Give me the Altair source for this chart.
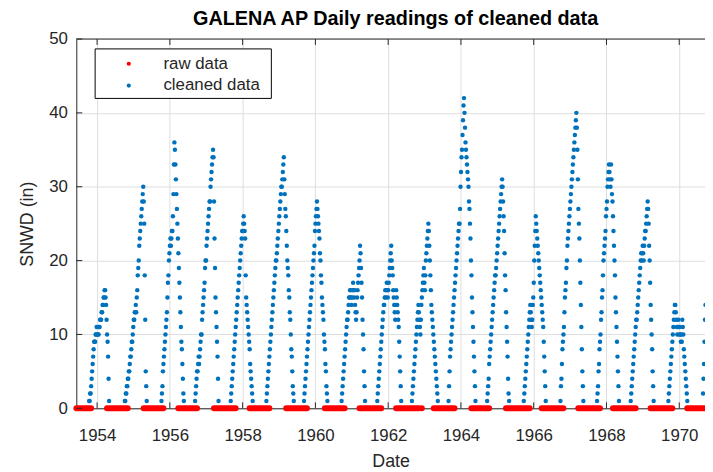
import altair as alt
import pandas as pd

# ---------------- data ----------------
# decimal year of first reading of each snow season, readings every 5 days
season_start = [1953.782, 1954.762, 1955.769, 1956.694, 1957.673, 1958.653,
                1959.687, 1960.721, 1961.701, 1962.653, 1963.660, 1964.721,
                1965.728, 1966.735, 1967.741, 1968.667, 1969.701, 1970.653]
STEP_DAYS = 5

s1954 = [1,1,2,2,3,4,5,6,7,8, 9,9,9,10,10,11,10,10,11,10, 11,11,12,12,12,13,13,14,14,15,
         15,16,16,15,14,12,10,9,7,4, 1]
s1955 = [1,1,2,2,3,3,4,4,5,5, 6,7,7,8,9,9,10,11,12,12, 13,13,14,13,15,16,18,19,20,22,
         23,24,25,26,27,28,29,30,28,25, 18,12,5,3,1]
s1956 = [1,2,3,5,6,7,8,9,10,11, 12,13,15,17,18,20,21,22,23,22, 23,24,24,26,29,33,36,35,33,31,
         29,27,25,23,21,19,17,15,13,11, 9,8,6,4,2,1]
s1957 = [1,2,3,4,5,5,6,7,6,7, 8,9,10,10,12,13,14,15,16,17, 19,20,20,22,23,24,25,26,27,28,
         28,30,31,32,33,34,35,34,28,23, 19,15,13,11,9,7,4,1]
s1958 = [1,2,3,4,5,6,7,8,9,10, 11,12,13,14,15,16,17,18,19,20, 21,22,23,24,24,25,26,25,24,23,
         18,15,14,13,12,11,10,9,8,6, 5,4,3,2,1]
s1959 = [1,2,3,4,5,6,7,8,9,10, 11,12,13,14,15,16,17,18,19,20, 20,21,22,23,24,25,26,27,28,29,
         30,30,31,32,33,34,31,29,27,26, 24,22,20,19,18,16,15,13,12,10, 8,7,5,3,2,1]
s1960 = [1,2,3,4,5,6,7,8,9,10, 11,12,13,14,15,16,17,18,19,20, 21,22,24,25,26,27,28,27,26,25,
         24,23,21,20,18,17,15,14,13,12, 10,9,8,6,5,3,2,1]
s1961 = [1,2,3,4,5,6,7,8,9,10, 11,12,12,13,14,15,15,16,16,15, 14,15,16,17,16,15,16,14,13,12,
         13,15,16,17,18,19,20,22,21,19, 17,15,12,10,8,5,3,1]
s1962 = [1,2,3,4,5,6,7,8,9,10, 11,12,13,14,14,15,16,15,16,17, 16,15,16,17,18,19,20,21,22,20,
         19,18,16,15,14,13,12,14,16,15, 14,13,12,11,9,7,5,3,1]
s1963 = [1,2,3,4,5,6,7,8,9,10, 11,12,13,14,13,12,11,10,12,14, 15,16,17,18,19,17,16,18,20,21,
         22,23,24,25,24,22,20,18,16,14, 13,12,11,10,9,8,7,6,5,4, 3,2,1]
s1964 = [1,3,5,7,8,9,10,11,12,13, 14,15,16,17,18,19,20,21,22,23, 24,25,25,27,30,32,34,35,37,39,
         41,42,40,38,36,35,34,33,32,31, 30,28,27,25,23,20,18,15,13,11, 9,7,5,3,1]
s1965 = [1,2,3,4,6,7,8,9,10,11, 12,13,14,15,16,17,18,18,19,20, 21,22,23,24,25,26,27,28,29,30,
         31,30,28,26,24,21,18,16,13,11, 9,7,4,2,1]
s1966 = [1,2,3,4,5,6,7,8,9,10, 11,12,13,14,13,12,11,12,14,15, 17,20,22,24,26,25,24,23,22,21,
         20,19,18,17,16,15,14,13,12,11, 9,7,5,3,1]
s1967 = [1,3,4,6,8,9,10,11,13,15, 16,17,19,20,22,23,24,25,26,27, 28,29,30,31,32,33,34,35,36,37,
         38,39,40,38,35,31,27,25,23,20, 17,14,11,8,5,3,1]
s1968 = [1,2,3,5,6,8,9,10,12,13, 15,16,18,20,21,22,23,24,26,27, 28,30,31,32,33,32,31,30,33,31,
         29,28,26,24,22,20,18,15,13,11, 9,7,5,3,1]
s1969 = [1,2,3,4,5,6,7,8,9,10, 11,12,12,13,14,15,16,17,18,19, 20,21,20,21,22,21,20,22,23,24,
         24,25,26,27,28,27,25,22,20,17, 14,12,10,8,5,3,1]
s1970 = [1,2,3,4,5,6,7,8,9,10, 11,12,13,14,14,13,12,11,10,11, 12,11,10,11,10,9,10,9,12,11,
         10,8,7,6,5,4,3,2,1]
s1971 = [2,4,6,9,12,14]

seasons = [s1954, s1955, s1956, s1957, s1958, s1959, s1960, s1961, s1962, s1963,
           s1964, s1965, s1966, s1967, s1968, s1969, s1970, s1971]

# raw data zero readings (summer stretches), decimal years
raw_start = [1953.43, 1954.272, 1955.279, 1956.231, 1957.211, 1958.190, 1959.197,
             1960.259, 1961.211, 1962.218, 1962.925, 1963.252, 1964.286, 1965.238,
             1966.218, 1967.224, 1968.177, 1969.211, 1970.218]
raw_end = [1953.837, 1954.844, 1955.823, 1956.748, 1957.810, 1958.735, 1959.769,
           1960.803, 1961.810, 1962.844, 1962.925, 1963.823, 1964.776, 1965.891,
           1966.816, 1967.823, 1968.803, 1969.810, 1970.70]
raw_value = [0] * len(raw_start)

year_ticks = [1954, 1956, 1958, 1960, 1962, 1964, 1966, 1968, 1970]
depth_ticks = [0, 10, 20, 30, 40, 50]

# ---------------- tables ----------------
rows = []
for start, vals in zip(season_start, seasons):
    for i, v in enumerate(vals):
        rows.append({"year": start + i * STEP_DAYS / 365.25, "snwd": v})
clean = pd.DataFrame(rows)
raw = pd.DataFrame({"year": raw_start, "year_end": raw_end, "snwd": raw_value})
xt = pd.DataFrame({"year": year_ticks})
yt = pd.DataFrame({"snwd": depth_ticks})
one = pd.DataFrame({"a": [0]})

W, H = 635, 373
FONT = "Liberation Sans"
AX = "#262626"

xscale = alt.Scale(domain=[1953.429, 1970.708], nice=False, zero=False)
yscale = alt.Scale(domain=[0, 50], nice=False, zero=False)
xaxis = alt.Axis(values=year_ticks, format="d", title="Date", grid=True, ticks=False,
                 labelPadding=20, titlePadding=9, domainColor=AX)
yaxis = alt.Axis(values=depth_ticks, title="SNWD (in)", grid=True, ticks=False,
                 labelPadding=9, titlePadding=12, domainColor=AX)

X = lambda f: alt.X(f, type="quantitative", scale=xscale, axis=xaxis)
Y = lambda f: alt.Y(f, type="quantitative", scale=yscale, axis=yaxis)

pts = alt.Chart(clean).mark_circle(size=20, color="#0072BD", opacity=1).encode(
    x=X("year"), y=Y("snwd"))

rawl = alt.Chart(raw).mark_rule(color="#FF0000", strokeWidth=6, strokeCap="round").encode(
    x=X("year"), x2="year_end:Q", y=Y("snwd"))

bt = alt.Chart(xt).mark_rule(color=AX, strokeWidth=1).encode(
    x=X("year"), y=alt.value(H), y2=alt.value(H - 6))
tt = alt.Chart(xt).mark_rule(color=AX, strokeWidth=1).encode(
    x=X("year"), y=alt.value(0), y2=alt.value(6))
lt = alt.Chart(yt).mark_rule(color=AX, strokeWidth=1).encode(
    y=Y("snwd"), x=alt.value(0), x2=alt.value(6))
topline = alt.Chart(one).mark_rule(color=AX, strokeWidth=1).encode(
    x=alt.value(0), x2=alt.value(W), y=alt.value(0))

box = alt.Chart(one).mark_rect(fill="white", stroke="black", strokeWidth=1).encode(
    x=alt.value(19), x2=alt.value(197), y=alt.value(10), y2=alt.value(60))
lg1 = alt.Chart(one).mark_circle(size=18, color="#FF0000", opacity=1).encode(
    x=alt.value(53), y=alt.value(25))
lg2 = alt.Chart(one).mark_circle(size=18, color="#0072BD", opacity=1).encode(
    x=alt.value(53), y=alt.value(47))
tx1 = alt.Chart(one).mark_text(text="raw data", align="left", baseline="middle",
                               font=FONT, fontSize=17, color=AX).encode(
    x=alt.value(88), y=alt.value(25))
tx2 = alt.Chart(one).mark_text(text="cleaned data", align="left", baseline="middle",
                               font=FONT, fontSize=17, color=AX).encode(
    x=alt.value(88), y=alt.value(47))

chart = alt.layer(pts, rawl, bt, tt, lt, topline, box, lg1, lg2, tx1, tx2).properties(
    width=W, height=H,
    autosize=alt.AutoSizeParams(type="none"),
    padding={"left": 69, "top": 29, "right": 0, "bottom": 60},
    title=alt.TitleParams(text="GALENA AP Daily readings of cleaned data", font=FONT,
                          fontSize=20, fontWeight="bold", color="black",
                          anchor="middle", offset=1, dx=5),
    background="white",
).configure_axis(
    labelFont=FONT, titleFont=FONT, labelFontSize=17, titleFontSize=18,
    labelColor=AX, titleColor=AX, gridColor="#dedede", titleFontWeight="normal",
).configure_view(stroke=None)

chart.save("out.html", embed_options={"renderer": "svg", "actions": False})
